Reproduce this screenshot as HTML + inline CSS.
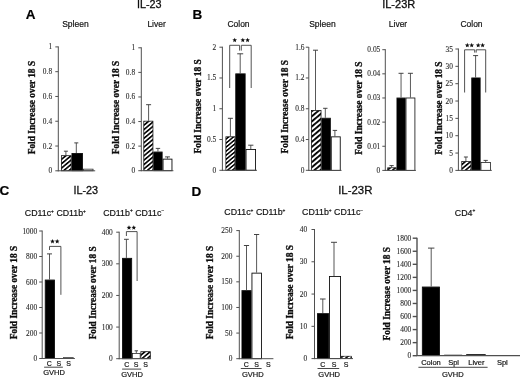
<!DOCTYPE html><html><head><meta charset="utf-8"><title>Figure</title>
<style>html,body{margin:0;padding:0;background:#fff;}body{width:520px;height:378px;overflow:hidden;font-family:"Liberation Sans",sans-serif;}svg{display:block;}</style></head><body>
<svg width="520" height="378" viewBox="0 0 520 378">
<defs><filter id="soft" x="0" y="0" width="520" height="378" filterUnits="userSpaceOnUse"><feGaussianBlur stdDeviation="0.38"/></filter><pattern id="h0" patternUnits="userSpaceOnUse" width="3.35" height="3.35" patternTransform="rotate(50) translate(0 0)"><rect width="3.35" height="3.35" fill="#fff"/><rect width="1.61" height="3.35" fill="#000"/></pattern><pattern id="h1" patternUnits="userSpaceOnUse" width="3.1" height="3.1" patternTransform="rotate(50) translate(0 0)"><rect width="3.1" height="3.1" fill="#fff"/><rect width="1.49" height="3.1" fill="#000"/></pattern><pattern id="h2" patternUnits="userSpaceOnUse" width="3.9" height="3.9" patternTransform="rotate(50) translate(0 0)"><rect width="3.9" height="3.9" fill="#fff"/><rect width="1.87" height="3.9" fill="#000"/></pattern></defs>
<rect width="520" height="378" fill="#fff"/>
<g filter="url(#soft)">
<text x="25.80" y="19.30" font-family="Liberation Sans, sans-serif" font-size="13.5" font-weight="bold" text-anchor="start" fill="#000" stroke="#000" stroke-width="0.18" >A</text>
<text x="192.40" y="19.30" font-family="Liberation Sans, sans-serif" font-size="13.5" font-weight="bold" text-anchor="start" fill="#000" stroke="#000" stroke-width="0.18" >B</text>
<text x="-0.50" y="195.20" font-family="Liberation Sans, sans-serif" font-size="13.5" font-weight="bold" text-anchor="start" fill="#000" stroke="#000" stroke-width="0.18" >C</text>
<text x="191.60" y="195.70" font-family="Liberation Sans, sans-serif" font-size="13.5" font-weight="bold" text-anchor="start" fill="#000" stroke="#000" stroke-width="0.18" >D</text>
<text x="149.20" y="8.30" font-family="Liberation Sans, sans-serif" font-size="10.8" font-weight="normal" text-anchor="middle" fill="#111" stroke="#111" stroke-width="0.3" >IL-23</text>
<text x="398.70" y="7.60" font-family="Liberation Sans, sans-serif" font-size="11.0" font-weight="normal" text-anchor="middle" fill="#111" stroke="#111" stroke-width="0.3" >IL-23R</text>
<text x="85.80" y="194.20" font-family="Liberation Sans, sans-serif" font-size="10.8" font-weight="normal" text-anchor="middle" fill="#111" stroke="#111" stroke-width="0.3" >IL-23</text>
<text x="355.30" y="194.20" font-family="Liberation Sans, sans-serif" font-size="11.4" font-weight="normal" text-anchor="middle" fill="#111" stroke="#111" stroke-width="0.3" >IL-23R</text>
<text x="75.40" y="27.40" font-family="Liberation Sans, sans-serif" font-size="8.5" font-weight="normal" text-anchor="middle" fill="#111" stroke="#111" stroke-width="0.18" >Spleen</text>
<text x="156.60" y="27.40" font-family="Liberation Sans, sans-serif" font-size="8.5" font-weight="normal" text-anchor="middle" fill="#111" stroke="#111" stroke-width="0.18" >Liver</text>
<text x="238.50" y="27.40" font-family="Liberation Sans, sans-serif" font-size="8.5" font-weight="normal" text-anchor="middle" fill="#111" stroke="#111" stroke-width="0.18" >Colon</text>
<text x="322.40" y="27.40" font-family="Liberation Sans, sans-serif" font-size="8.5" font-weight="normal" text-anchor="middle" fill="#111" stroke="#111" stroke-width="0.18" >Spleen</text>
<text x="398.00" y="27.40" font-family="Liberation Sans, sans-serif" font-size="8.5" font-weight="normal" text-anchor="middle" fill="#111" stroke="#111" stroke-width="0.18" >Liver</text>
<text x="471.50" y="27.40" font-family="Liberation Sans, sans-serif" font-size="8.5" font-weight="normal" text-anchor="middle" fill="#111" stroke="#111" stroke-width="0.18" >Colon</text>
<text x="55.40" y="215.80" font-family="Liberation Sans, sans-serif" font-size="8.8" font-weight="normal" text-anchor="middle" fill="#111" stroke="#111" stroke-width="0.18" >CD11c<tspan dy="-3.3" font-size="4.8">+</tspan><tspan dy="3.3" font-size="8.8">&#160;</tspan>CD11b<tspan dy="-3.3" font-size="4.8">+</tspan></text>
<text x="133.70" y="215.60" font-family="Liberation Sans, sans-serif" font-size="8.8" font-weight="normal" text-anchor="middle" fill="#111" stroke="#111" stroke-width="0.18" >CD11b<tspan dy="-3.3" font-size="4.8">+</tspan><tspan dy="3.3" font-size="8.8">&#160;</tspan>CD11c<tspan dy="-3.3" font-size="4.8">−</tspan></text>
<text x="254.90" y="215.30" font-family="Liberation Sans, sans-serif" font-size="8.8" font-weight="normal" text-anchor="middle" fill="#111" stroke="#111" stroke-width="0.18" >CD11c<tspan dy="-3.3" font-size="4.8">+</tspan><tspan dy="3.3" font-size="8.8">&#160;</tspan>CD11b<tspan dy="-3.3" font-size="4.8">+</tspan></text>
<text x="332.60" y="215.30" font-family="Liberation Sans, sans-serif" font-size="8.8" font-weight="normal" text-anchor="middle" fill="#111" stroke="#111" stroke-width="0.18" >CD11b<tspan dy="-3.3" font-size="4.8">+</tspan><tspan dy="3.3" font-size="8.8">&#160;</tspan>CD11c<tspan dy="-3.3" font-size="4.8">−</tspan></text>
<text x="465.00" y="215.60" font-family="Liberation Sans, sans-serif" font-size="8.8" font-weight="normal" text-anchor="middle" fill="#111" stroke="#111" stroke-width="0.18" >CD4<tspan dy="-3.3" font-size="4.8">+</tspan></text>
<rect x="61.38" y="155.68" width="9.75" height="15.12" fill="url(#h0)" stroke="#111" stroke-width="0.75"/>
<line x1="65.90" y1="151.20" x2="65.90" y2="155.30" stroke="#3a3a3a" stroke-width="0.85"/>
<line x1="63.90" y1="151.20" x2="67.90" y2="151.20" stroke="#3a3a3a" stroke-width="0.95"/>
<rect x="71.95" y="153.45" width="10.50" height="17.35" fill="#000" stroke="#111" stroke-width="0.9"/>
<line x1="76.30" y1="142.90" x2="76.30" y2="153.00" stroke="#3a3a3a" stroke-width="0.85"/>
<line x1="74.30" y1="142.90" x2="78.30" y2="142.90" stroke="#3a3a3a" stroke-width="0.95"/>
<rect x="83.25" y="169.15" width="9.80" height="1.65" fill="#fff" stroke="#111" stroke-width="0.7"/>
<line x1="58.30" y1="46.40" x2="58.30" y2="171.30" stroke="#505050" stroke-width="1.0"/>
<line x1="57.80" y1="170.80" x2="95.20" y2="170.80" stroke="#505050" stroke-width="1.0"/>
<line x1="55.30" y1="46.90" x2="58.30" y2="46.90" stroke="#505050" stroke-width="1.0"/>
<text x="52.10" y="49.40" font-family="Liberation Serif, sans-serif" font-size="7.4" font-weight="normal" text-anchor="end" fill="#2a2a2a" stroke="#2a2a2a" stroke-width="0.1" >1</text>
<line x1="55.30" y1="71.68" x2="58.30" y2="71.68" stroke="#505050" stroke-width="1.0"/>
<text x="52.10" y="74.18" font-family="Liberation Serif, sans-serif" font-size="7.4" font-weight="normal" text-anchor="end" fill="#2a2a2a" stroke="#2a2a2a" stroke-width="0.1" >0.8</text>
<line x1="55.30" y1="96.46" x2="58.30" y2="96.46" stroke="#505050" stroke-width="1.0"/>
<text x="52.10" y="98.96" font-family="Liberation Serif, sans-serif" font-size="7.4" font-weight="normal" text-anchor="end" fill="#2a2a2a" stroke="#2a2a2a" stroke-width="0.1" >0.6</text>
<line x1="55.30" y1="121.24" x2="58.30" y2="121.24" stroke="#505050" stroke-width="1.0"/>
<text x="52.10" y="123.74" font-family="Liberation Serif, sans-serif" font-size="7.4" font-weight="normal" text-anchor="end" fill="#2a2a2a" stroke="#2a2a2a" stroke-width="0.1" >0.4</text>
<line x1="55.30" y1="146.02" x2="58.30" y2="146.02" stroke="#505050" stroke-width="1.0"/>
<text x="52.10" y="148.52" font-family="Liberation Serif, sans-serif" font-size="7.4" font-weight="normal" text-anchor="end" fill="#2a2a2a" stroke="#2a2a2a" stroke-width="0.1" >0.2</text>
<line x1="55.30" y1="170.80" x2="58.30" y2="170.80" stroke="#505050" stroke-width="1.0"/>
<text x="52.10" y="173.30" font-family="Liberation Serif, sans-serif" font-size="7.4" font-weight="normal" text-anchor="end" fill="#2a2a2a" stroke="#2a2a2a" stroke-width="0.1" >0</text>
<text x="34.60" y="107.60" font-family="Liberation Serif, sans-serif" font-size="9.39" font-weight="bold" text-anchor="middle" fill="#0a0a0a" stroke="#0a0a0a" stroke-width="0.3" transform="rotate(-90 34.60 107.60)">Fold Increase over 18 S</text>
<rect x="143.78" y="121.17" width="9.15" height="49.52" fill="url(#h0)" stroke="#111" stroke-width="0.75"/>
<line x1="148.60" y1="104.70" x2="148.60" y2="120.80" stroke="#3a3a3a" stroke-width="0.85"/>
<line x1="146.10" y1="104.70" x2="151.10" y2="104.70" stroke="#3a3a3a" stroke-width="0.95"/>
<rect x="153.75" y="152.05" width="8.40" height="18.65" fill="#000" stroke="#111" stroke-width="0.9"/>
<line x1="157.95" y1="148.40" x2="157.95" y2="151.60" stroke="#3a3a3a" stroke-width="0.85"/>
<line x1="155.75" y1="148.40" x2="160.15" y2="148.40" stroke="#3a3a3a" stroke-width="0.95"/>
<rect x="163.05" y="159.15" width="8.90" height="11.55" fill="#fff" stroke="#111" stroke-width="0.9"/>
<line x1="167.50" y1="156.90" x2="167.50" y2="158.70" stroke="#3a3a3a" stroke-width="0.85"/>
<line x1="165.10" y1="156.90" x2="169.90" y2="156.90" stroke="#3a3a3a" stroke-width="0.95"/>
<line x1="141.30" y1="47.30" x2="141.30" y2="171.20" stroke="#505050" stroke-width="1.0"/>
<line x1="140.80" y1="170.70" x2="173.40" y2="170.70" stroke="#505050" stroke-width="1.0"/>
<line x1="138.30" y1="47.80" x2="141.30" y2="47.80" stroke="#505050" stroke-width="1.0"/>
<text x="135.10" y="50.30" font-family="Liberation Serif, sans-serif" font-size="7.4" font-weight="normal" text-anchor="end" fill="#2a2a2a" stroke="#2a2a2a" stroke-width="0.1" >1</text>
<line x1="138.30" y1="72.38" x2="141.30" y2="72.38" stroke="#505050" stroke-width="1.0"/>
<text x="135.10" y="74.88" font-family="Liberation Serif, sans-serif" font-size="7.4" font-weight="normal" text-anchor="end" fill="#2a2a2a" stroke="#2a2a2a" stroke-width="0.1" >0.8</text>
<line x1="138.30" y1="96.96" x2="141.30" y2="96.96" stroke="#505050" stroke-width="1.0"/>
<text x="135.10" y="99.46" font-family="Liberation Serif, sans-serif" font-size="7.4" font-weight="normal" text-anchor="end" fill="#2a2a2a" stroke="#2a2a2a" stroke-width="0.1" >0.6</text>
<line x1="138.30" y1="121.54" x2="141.30" y2="121.54" stroke="#505050" stroke-width="1.0"/>
<text x="135.10" y="124.04" font-family="Liberation Serif, sans-serif" font-size="7.4" font-weight="normal" text-anchor="end" fill="#2a2a2a" stroke="#2a2a2a" stroke-width="0.1" >0.4</text>
<line x1="138.30" y1="146.12" x2="141.30" y2="146.12" stroke="#505050" stroke-width="1.0"/>
<text x="135.10" y="148.62" font-family="Liberation Serif, sans-serif" font-size="7.4" font-weight="normal" text-anchor="end" fill="#2a2a2a" stroke="#2a2a2a" stroke-width="0.1" >0.2</text>
<line x1="138.30" y1="170.70" x2="141.30" y2="170.70" stroke="#505050" stroke-width="1.0"/>
<text x="135.10" y="173.20" font-family="Liberation Serif, sans-serif" font-size="7.4" font-weight="normal" text-anchor="end" fill="#2a2a2a" stroke="#2a2a2a" stroke-width="0.1" >0</text>
<text x="119.00" y="107.50" font-family="Liberation Serif, sans-serif" font-size="9.39" font-weight="bold" text-anchor="middle" fill="#0a0a0a" stroke="#0a0a0a" stroke-width="0.3" transform="rotate(-90 119.00 107.50)">Fold Increase over 18 S</text>
<rect x="225.88" y="136.78" width="9.05" height="33.53" fill="url(#h1)" stroke="#111" stroke-width="0.75"/>
<line x1="230.40" y1="118.30" x2="230.40" y2="136.40" stroke="#3a3a3a" stroke-width="0.85"/>
<line x1="227.90" y1="118.30" x2="232.90" y2="118.30" stroke="#3a3a3a" stroke-width="0.95"/>
<rect x="235.75" y="73.85" width="9.40" height="96.45" fill="#000" stroke="#111" stroke-width="0.9"/>
<line x1="240.20" y1="53.80" x2="240.20" y2="73.40" stroke="#3a3a3a" stroke-width="0.85"/>
<line x1="237.20" y1="53.80" x2="243.20" y2="53.80" stroke="#3a3a3a" stroke-width="0.95"/>
<rect x="246.05" y="149.45" width="9.50" height="20.85" fill="#fff" stroke="#111" stroke-width="0.9"/>
<line x1="250.80" y1="145.20" x2="250.80" y2="149.00" stroke="#3a3a3a" stroke-width="0.85"/>
<line x1="248.20" y1="145.20" x2="253.40" y2="145.20" stroke="#3a3a3a" stroke-width="0.95"/>
<line x1="222.40" y1="46.70" x2="222.40" y2="170.80" stroke="#505050" stroke-width="1.0"/>
<line x1="221.90" y1="170.30" x2="257.00" y2="170.30" stroke="#505050" stroke-width="1.0"/>
<line x1="219.40" y1="47.20" x2="222.40" y2="47.20" stroke="#505050" stroke-width="1.0"/>
<text x="216.30" y="49.70" font-family="Liberation Serif, sans-serif" font-size="7.4" font-weight="normal" text-anchor="end" fill="#2a2a2a" stroke="#2a2a2a" stroke-width="0.1" >2</text>
<line x1="219.40" y1="77.98" x2="222.40" y2="77.98" stroke="#505050" stroke-width="1.0"/>
<text x="216.30" y="80.48" font-family="Liberation Serif, sans-serif" font-size="7.4" font-weight="normal" text-anchor="end" fill="#2a2a2a" stroke="#2a2a2a" stroke-width="0.1" >1.5</text>
<line x1="219.40" y1="108.75" x2="222.40" y2="108.75" stroke="#505050" stroke-width="1.0"/>
<text x="216.30" y="111.25" font-family="Liberation Serif, sans-serif" font-size="7.4" font-weight="normal" text-anchor="end" fill="#2a2a2a" stroke="#2a2a2a" stroke-width="0.1" >1</text>
<line x1="219.40" y1="139.53" x2="222.40" y2="139.53" stroke="#505050" stroke-width="1.0"/>
<text x="216.30" y="142.03" font-family="Liberation Serif, sans-serif" font-size="7.4" font-weight="normal" text-anchor="end" fill="#2a2a2a" stroke="#2a2a2a" stroke-width="0.1" >0.5</text>
<line x1="219.40" y1="170.30" x2="222.40" y2="170.30" stroke="#505050" stroke-width="1.0"/>
<text x="216.30" y="172.80" font-family="Liberation Serif, sans-serif" font-size="7.4" font-weight="normal" text-anchor="end" fill="#2a2a2a" stroke="#2a2a2a" stroke-width="0.1" >0</text>
<text x="200.90" y="106.30" font-family="Liberation Serif, sans-serif" font-size="9.47" font-weight="bold" text-anchor="middle" fill="#0a0a0a" stroke="#0a0a0a" stroke-width="0.3" transform="rotate(-90 200.90 106.30)">Fold Increase over 18 S</text>
<polyline points="229.70,88.00 229.70,45.30 239.60,45.30 239.60,50.60" fill="none" stroke="#333" stroke-width="0.85"/>
<polyline points="241.30,50.60 241.30,45.30 251.20,45.30 251.20,88.00" fill="none" stroke="#333" stroke-width="0.85"/>
<polygon points="234.70,37.75 235.35,39.31 237.03,39.44 235.75,40.54 236.14,42.18 234.70,41.30 233.26,42.18 233.65,40.54 232.37,39.44 234.05,39.31" fill="#111"/>
<polygon points="242.80,37.75 243.45,39.31 245.13,39.44 243.85,40.54 244.24,42.18 242.80,41.30 241.36,42.18 241.75,40.54 240.47,39.44 242.15,39.31" fill="#111"/>
<polygon points="247.60,37.75 248.25,39.31 249.93,39.44 248.65,40.54 249.04,42.18 247.60,41.30 246.16,42.18 246.55,40.54 245.27,39.44 246.95,39.31" fill="#111"/>
<rect x="311.48" y="110.47" width="9.55" height="59.93" fill="url(#h2)" stroke="#111" stroke-width="0.75"/>
<line x1="315.50" y1="50.20" x2="315.50" y2="110.10" stroke="#3a3a3a" stroke-width="0.85"/>
<line x1="313.00" y1="50.20" x2="318.00" y2="50.20" stroke="#3a3a3a" stroke-width="0.95"/>
<rect x="321.85" y="118.25" width="8.50" height="52.15" fill="#000" stroke="#111" stroke-width="0.9"/>
<line x1="325.30" y1="108.30" x2="325.30" y2="117.80" stroke="#3a3a3a" stroke-width="0.85"/>
<line x1="323.10" y1="108.30" x2="327.50" y2="108.30" stroke="#3a3a3a" stroke-width="0.95"/>
<rect x="331.25" y="136.85" width="9.00" height="33.55" fill="#fff" stroke="#111" stroke-width="0.9"/>
<line x1="334.90" y1="130.40" x2="334.90" y2="136.40" stroke="#3a3a3a" stroke-width="0.85"/>
<line x1="332.70" y1="130.40" x2="337.10" y2="130.40" stroke="#3a3a3a" stroke-width="0.95"/>
<line x1="308.80" y1="47.00" x2="308.80" y2="170.90" stroke="#505050" stroke-width="1.0"/>
<line x1="308.30" y1="170.40" x2="341.50" y2="170.40" stroke="#505050" stroke-width="1.0"/>
<line x1="305.80" y1="47.20" x2="308.80" y2="47.20" stroke="#505050" stroke-width="1.0"/>
<text x="304.50" y="49.70" font-family="Liberation Serif, sans-serif" font-size="7.4" font-weight="normal" text-anchor="end" fill="#2a2a2a" stroke="#2a2a2a" stroke-width="0.1" >1.6</text>
<line x1="305.80" y1="77.98" x2="308.80" y2="77.98" stroke="#505050" stroke-width="1.0"/>
<text x="304.50" y="80.48" font-family="Liberation Serif, sans-serif" font-size="7.4" font-weight="normal" text-anchor="end" fill="#2a2a2a" stroke="#2a2a2a" stroke-width="0.1" >1.2</text>
<line x1="305.80" y1="108.75" x2="308.80" y2="108.75" stroke="#505050" stroke-width="1.0"/>
<text x="304.50" y="111.25" font-family="Liberation Serif, sans-serif" font-size="7.4" font-weight="normal" text-anchor="end" fill="#2a2a2a" stroke="#2a2a2a" stroke-width="0.1" >0.8</text>
<line x1="305.80" y1="139.53" x2="308.80" y2="139.53" stroke="#505050" stroke-width="1.0"/>
<text x="304.50" y="142.03" font-family="Liberation Serif, sans-serif" font-size="7.4" font-weight="normal" text-anchor="end" fill="#2a2a2a" stroke="#2a2a2a" stroke-width="0.1" >0.4</text>
<line x1="305.80" y1="170.30" x2="308.80" y2="170.30" stroke="#505050" stroke-width="1.0"/>
<text x="304.50" y="172.80" font-family="Liberation Serif, sans-serif" font-size="7.4" font-weight="normal" text-anchor="end" fill="#2a2a2a" stroke="#2a2a2a" stroke-width="0.1" >0</text>
<text x="288.10" y="106.70" font-family="Liberation Serif, sans-serif" font-size="9.39" font-weight="bold" text-anchor="middle" fill="#0a0a0a" stroke="#0a0a0a" stroke-width="0.3" transform="rotate(-90 288.10 106.70)">Fold Increase over 18 S</text>
<rect x="387.68" y="167.78" width="8.45" height="2.62" fill="url(#h0)" stroke="#111" stroke-width="0.75"/>
<line x1="391.60" y1="165.60" x2="391.60" y2="167.40" stroke="#3a3a3a" stroke-width="0.85"/>
<line x1="389.50" y1="165.60" x2="393.70" y2="165.60" stroke="#3a3a3a" stroke-width="0.95"/>
<rect x="396.95" y="98.05" width="8.20" height="72.35" fill="#000" stroke="#111" stroke-width="0.9"/>
<line x1="401.05" y1="73.30" x2="401.05" y2="97.60" stroke="#3a3a3a" stroke-width="0.85"/>
<line x1="398.55" y1="73.30" x2="403.55" y2="73.30" stroke="#3a3a3a" stroke-width="0.95"/>
<rect x="406.00" y="98.00" width="8.90" height="72.40" fill="#fff" stroke="#111" stroke-width="0.8"/>
<line x1="410.45" y1="73.30" x2="410.45" y2="97.60" stroke="#3a3a3a" stroke-width="0.85"/>
<line x1="407.95" y1="73.30" x2="412.95" y2="73.30" stroke="#3a3a3a" stroke-width="0.95"/>
<line x1="385.30" y1="49.20" x2="385.30" y2="170.90" stroke="#505050" stroke-width="1.0"/>
<line x1="384.80" y1="170.40" x2="415.90" y2="170.40" stroke="#505050" stroke-width="1.0"/>
<line x1="382.30" y1="49.70" x2="385.30" y2="49.70" stroke="#505050" stroke-width="1.0"/>
<text x="380.30" y="52.20" font-family="Liberation Serif, sans-serif" font-size="7.4" font-weight="normal" text-anchor="end" fill="#2a2a2a" stroke="#2a2a2a" stroke-width="0.1" >0.05</text>
<line x1="382.30" y1="73.84" x2="385.30" y2="73.84" stroke="#505050" stroke-width="1.0"/>
<text x="380.30" y="76.34" font-family="Liberation Serif, sans-serif" font-size="7.4" font-weight="normal" text-anchor="end" fill="#2a2a2a" stroke="#2a2a2a" stroke-width="0.1" >0.04</text>
<line x1="382.30" y1="97.98" x2="385.30" y2="97.98" stroke="#505050" stroke-width="1.0"/>
<text x="380.30" y="100.48" font-family="Liberation Serif, sans-serif" font-size="7.4" font-weight="normal" text-anchor="end" fill="#2a2a2a" stroke="#2a2a2a" stroke-width="0.1" >0.03</text>
<line x1="382.30" y1="122.12" x2="385.30" y2="122.12" stroke="#505050" stroke-width="1.0"/>
<text x="380.30" y="124.62" font-family="Liberation Serif, sans-serif" font-size="7.4" font-weight="normal" text-anchor="end" fill="#2a2a2a" stroke="#2a2a2a" stroke-width="0.1" >0.02</text>
<line x1="382.30" y1="146.26" x2="385.30" y2="146.26" stroke="#505050" stroke-width="1.0"/>
<text x="380.30" y="148.76" font-family="Liberation Serif, sans-serif" font-size="7.4" font-weight="normal" text-anchor="end" fill="#2a2a2a" stroke="#2a2a2a" stroke-width="0.1" >0.01</text>
<line x1="382.30" y1="170.40" x2="385.30" y2="170.40" stroke="#505050" stroke-width="1.0"/>
<text x="380.30" y="172.90" font-family="Liberation Serif, sans-serif" font-size="7.4" font-weight="normal" text-anchor="end" fill="#2a2a2a" stroke="#2a2a2a" stroke-width="0.1" >0</text>
<text x="362.20" y="108.10" font-family="Liberation Serif, sans-serif" font-size="9.39" font-weight="bold" text-anchor="middle" fill="#0a0a0a" stroke="#0a0a0a" stroke-width="0.3" transform="rotate(-90 362.20 108.10)">Fold Increase over 18 S</text>
<rect x="461.77" y="161.47" width="9.15" height="8.93" fill="url(#h0)" stroke="#111" stroke-width="0.75"/>
<line x1="465.90" y1="157.00" x2="465.90" y2="161.10" stroke="#3a3a3a" stroke-width="0.85"/>
<line x1="463.90" y1="157.00" x2="467.90" y2="157.00" stroke="#3a3a3a" stroke-width="0.95"/>
<rect x="471.75" y="77.95" width="8.40" height="92.45" fill="#000" stroke="#111" stroke-width="0.9"/>
<line x1="475.60" y1="55.60" x2="475.60" y2="77.50" stroke="#3a3a3a" stroke-width="0.85"/>
<line x1="473.10" y1="55.60" x2="478.10" y2="55.60" stroke="#3a3a3a" stroke-width="0.95"/>
<rect x="480.98" y="162.57" width="9.45" height="7.83" fill="#fff" stroke="#111" stroke-width="0.75"/>
<line x1="485.70" y1="160.40" x2="485.70" y2="162.20" stroke="#3a3a3a" stroke-width="0.85"/>
<line x1="483.60" y1="160.40" x2="487.80" y2="160.40" stroke="#3a3a3a" stroke-width="0.95"/>
<line x1="458.40" y1="48.50" x2="458.40" y2="170.90" stroke="#505050" stroke-width="1.0"/>
<line x1="457.90" y1="170.40" x2="491.80" y2="170.40" stroke="#505050" stroke-width="1.0"/>
<line x1="455.40" y1="49.00" x2="458.40" y2="49.00" stroke="#505050" stroke-width="1.0"/>
<text x="452.90" y="51.50" font-family="Liberation Serif, sans-serif" font-size="7.4" font-weight="normal" text-anchor="end" fill="#2a2a2a" stroke="#2a2a2a" stroke-width="0.1" >35</text>
<line x1="455.40" y1="66.34" x2="458.40" y2="66.34" stroke="#505050" stroke-width="1.0"/>
<text x="452.90" y="68.84" font-family="Liberation Serif, sans-serif" font-size="7.4" font-weight="normal" text-anchor="end" fill="#2a2a2a" stroke="#2a2a2a" stroke-width="0.1" >30</text>
<line x1="455.40" y1="83.69" x2="458.40" y2="83.69" stroke="#505050" stroke-width="1.0"/>
<text x="452.90" y="86.19" font-family="Liberation Serif, sans-serif" font-size="7.4" font-weight="normal" text-anchor="end" fill="#2a2a2a" stroke="#2a2a2a" stroke-width="0.1" >25</text>
<line x1="455.40" y1="101.03" x2="458.40" y2="101.03" stroke="#505050" stroke-width="1.0"/>
<text x="452.90" y="103.53" font-family="Liberation Serif, sans-serif" font-size="7.4" font-weight="normal" text-anchor="end" fill="#2a2a2a" stroke="#2a2a2a" stroke-width="0.1" >20</text>
<line x1="455.40" y1="118.37" x2="458.40" y2="118.37" stroke="#505050" stroke-width="1.0"/>
<text x="452.90" y="120.87" font-family="Liberation Serif, sans-serif" font-size="7.4" font-weight="normal" text-anchor="end" fill="#2a2a2a" stroke="#2a2a2a" stroke-width="0.1" >15</text>
<line x1="455.40" y1="135.71" x2="458.40" y2="135.71" stroke="#505050" stroke-width="1.0"/>
<text x="452.90" y="138.21" font-family="Liberation Serif, sans-serif" font-size="7.4" font-weight="normal" text-anchor="end" fill="#2a2a2a" stroke="#2a2a2a" stroke-width="0.1" >10</text>
<line x1="455.40" y1="153.06" x2="458.40" y2="153.06" stroke="#505050" stroke-width="1.0"/>
<text x="452.90" y="155.56" font-family="Liberation Serif, sans-serif" font-size="7.4" font-weight="normal" text-anchor="end" fill="#2a2a2a" stroke="#2a2a2a" stroke-width="0.1" >5</text>
<line x1="455.40" y1="170.40" x2="458.40" y2="170.40" stroke="#505050" stroke-width="1.0"/>
<text x="452.90" y="172.90" font-family="Liberation Serif, sans-serif" font-size="7.4" font-weight="normal" text-anchor="end" fill="#2a2a2a" stroke="#2a2a2a" stroke-width="0.1" >0</text>
<text x="441.90" y="108.10" font-family="Liberation Serif, sans-serif" font-size="9.39" font-weight="bold" text-anchor="middle" fill="#0a0a0a" stroke="#0a0a0a" stroke-width="0.3" transform="rotate(-90 441.90 108.10)">Fold Increase over 18 S</text>
<polyline points="464.60,92.50 464.60,49.80 474.70,49.80 474.70,52.60" fill="none" stroke="#333" stroke-width="0.85"/>
<polyline points="476.20,52.60 476.20,49.80 485.70,49.80 485.70,92.50" fill="none" stroke="#333" stroke-width="0.85"/>
<polygon points="467.30,42.85 467.95,44.41 469.63,44.54 468.35,45.64 468.74,47.28 467.30,46.40 465.86,47.28 466.25,45.64 464.97,44.54 466.65,44.41" fill="#111"/>
<polygon points="471.70,42.85 472.35,44.41 474.03,44.54 472.75,45.64 473.14,47.28 471.70,46.40 470.26,47.28 470.65,45.64 469.37,44.54 471.05,44.41" fill="#111"/>
<polygon points="478.20,42.85 478.85,44.41 480.53,44.54 479.25,45.64 479.64,47.28 478.20,46.40 476.76,47.28 477.15,45.64 475.87,44.54 477.55,44.41" fill="#111"/>
<polygon points="482.60,42.85 483.25,44.41 484.93,44.54 483.65,45.64 484.04,47.28 482.60,46.40 481.16,47.28 481.55,45.64 480.27,44.54 481.95,44.41" fill="#111"/>
<rect x="45.25" y="280.05" width="9.20" height="78.45" fill="#000" stroke="#111" stroke-width="0.9"/>
<line x1="49.50" y1="253.90" x2="49.50" y2="279.60" stroke="#3a3a3a" stroke-width="0.85"/>
<line x1="47.00" y1="253.90" x2="52.00" y2="253.90" stroke="#3a3a3a" stroke-width="0.95"/>
<rect x="63.15" y="357.55" width="10.20" height="0.95" fill="#000" stroke="#111" stroke-width="0.3"/>
<line x1="42.20" y1="230.50" x2="42.20" y2="359.00" stroke="#505050" stroke-width="1.0"/>
<line x1="41.70" y1="358.50" x2="74.90" y2="358.50" stroke="#505050" stroke-width="1.0"/>
<line x1="39.20" y1="231.00" x2="42.20" y2="231.00" stroke="#505050" stroke-width="1.0"/>
<text x="37.20" y="233.50" font-family="Liberation Serif, sans-serif" font-size="7.4" font-weight="normal" text-anchor="end" fill="#2a2a2a" stroke="#2a2a2a" stroke-width="0.1" >1000</text>
<line x1="39.20" y1="256.50" x2="42.20" y2="256.50" stroke="#505050" stroke-width="1.0"/>
<text x="37.20" y="259.00" font-family="Liberation Serif, sans-serif" font-size="7.4" font-weight="normal" text-anchor="end" fill="#2a2a2a" stroke="#2a2a2a" stroke-width="0.1" >800</text>
<line x1="39.20" y1="282.00" x2="42.20" y2="282.00" stroke="#505050" stroke-width="1.0"/>
<text x="37.20" y="284.50" font-family="Liberation Serif, sans-serif" font-size="7.4" font-weight="normal" text-anchor="end" fill="#2a2a2a" stroke="#2a2a2a" stroke-width="0.1" >600</text>
<line x1="39.20" y1="307.50" x2="42.20" y2="307.50" stroke="#505050" stroke-width="1.0"/>
<text x="37.20" y="310.00" font-family="Liberation Serif, sans-serif" font-size="7.4" font-weight="normal" text-anchor="end" fill="#2a2a2a" stroke="#2a2a2a" stroke-width="0.1" >400</text>
<line x1="39.20" y1="333.00" x2="42.20" y2="333.00" stroke="#505050" stroke-width="1.0"/>
<text x="37.20" y="335.50" font-family="Liberation Serif, sans-serif" font-size="7.4" font-weight="normal" text-anchor="end" fill="#2a2a2a" stroke="#2a2a2a" stroke-width="0.1" >200</text>
<line x1="39.20" y1="358.50" x2="42.20" y2="358.50" stroke="#505050" stroke-width="1.0"/>
<text x="37.20" y="361.00" font-family="Liberation Serif, sans-serif" font-size="7.4" font-weight="normal" text-anchor="end" fill="#2a2a2a" stroke="#2a2a2a" stroke-width="0.1" >0</text>
<text x="16.60" y="292.50" font-family="Liberation Serif, sans-serif" font-size="9.4" font-weight="bold" text-anchor="middle" fill="#0a0a0a" stroke="#0a0a0a" stroke-width="0.3" transform="rotate(-90 16.60 292.50)">Fold Increase over 18 S</text>
<polyline points="49.50,250.00 49.50,246.40 60.90,246.40 60.90,294.80" fill="none" stroke="#333" stroke-width="0.85"/>
<polygon points="52.50,239.05 53.15,240.61 54.83,240.74 53.55,241.84 53.94,243.48 52.50,242.60 51.06,243.48 51.45,241.84 50.17,240.74 51.85,240.61" fill="#111"/>
<polygon points="57.20,239.05 57.85,240.61 59.53,240.74 58.25,241.84 58.64,243.48 57.20,242.60 55.76,243.48 56.15,241.84 54.87,240.74 56.55,240.61" fill="#111"/>
<text x="49.40" y="365.80" font-family="Liberation Sans, sans-serif" font-size="7.0" font-weight="normal" text-anchor="middle" fill="#111" stroke="#111" stroke-width="0.18" >C</text>
<text x="58.80" y="365.80" font-family="Liberation Sans, sans-serif" font-size="7.0" font-weight="normal" text-anchor="middle" fill="#111" stroke="#111" stroke-width="0.18" >S</text>
<text x="68.70" y="365.80" font-family="Liberation Sans, sans-serif" font-size="7.0" font-weight="normal" text-anchor="middle" fill="#111" stroke="#111" stroke-width="0.18" >S</text>
<line x1="44.10" y1="367.20" x2="62.90" y2="367.20" stroke="#333" stroke-width="0.9"/>
<text x="54.00" y="374.80" font-family="Liberation Sans, sans-serif" font-size="7.5" font-weight="normal" text-anchor="middle" fill="#111" stroke="#111" stroke-width="0.18" >GVHD</text>
<rect x="122.55" y="258.35" width="9.10" height="100.35" fill="#000" stroke="#111" stroke-width="0.9"/>
<line x1="126.40" y1="239.30" x2="126.40" y2="257.90" stroke="#3a3a3a" stroke-width="0.85"/>
<line x1="124.00" y1="239.30" x2="128.80" y2="239.30" stroke="#3a3a3a" stroke-width="0.95"/>
<rect x="132.45" y="353.45" width="7.70" height="5.25" fill="#fff" stroke="#111" stroke-width="0.7"/>
<line x1="136.30" y1="350.80" x2="136.30" y2="353.10" stroke="#3a3a3a" stroke-width="0.85"/>
<line x1="134.60" y1="350.80" x2="138.00" y2="350.80" stroke="#3a3a3a" stroke-width="0.95"/>
<rect x="140.88" y="351.68" width="9.45" height="7.02" fill="url(#h0)" stroke="#111" stroke-width="0.75"/>
<line x1="119.20" y1="231.70" x2="119.20" y2="359.20" stroke="#505050" stroke-width="1.0"/>
<line x1="118.70" y1="358.70" x2="150.90" y2="358.70" stroke="#505050" stroke-width="1.0"/>
<line x1="116.20" y1="232.20" x2="119.20" y2="232.20" stroke="#505050" stroke-width="1.0"/>
<text x="112.80" y="234.70" font-family="Liberation Serif, sans-serif" font-size="7.4" font-weight="normal" text-anchor="end" fill="#2a2a2a" stroke="#2a2a2a" stroke-width="0.1" >400</text>
<line x1="116.20" y1="263.82" x2="119.20" y2="263.82" stroke="#505050" stroke-width="1.0"/>
<text x="112.80" y="266.32" font-family="Liberation Serif, sans-serif" font-size="7.4" font-weight="normal" text-anchor="end" fill="#2a2a2a" stroke="#2a2a2a" stroke-width="0.1" >300</text>
<line x1="116.20" y1="295.45" x2="119.20" y2="295.45" stroke="#505050" stroke-width="1.0"/>
<text x="112.80" y="297.95" font-family="Liberation Serif, sans-serif" font-size="7.4" font-weight="normal" text-anchor="end" fill="#2a2a2a" stroke="#2a2a2a" stroke-width="0.1" >200</text>
<line x1="116.20" y1="327.07" x2="119.20" y2="327.07" stroke="#505050" stroke-width="1.0"/>
<text x="112.80" y="329.57" font-family="Liberation Serif, sans-serif" font-size="7.4" font-weight="normal" text-anchor="end" fill="#2a2a2a" stroke="#2a2a2a" stroke-width="0.1" >100</text>
<line x1="116.20" y1="358.70" x2="119.20" y2="358.70" stroke="#505050" stroke-width="1.0"/>
<text x="112.80" y="361.20" font-family="Liberation Serif, sans-serif" font-size="7.4" font-weight="normal" text-anchor="end" fill="#2a2a2a" stroke="#2a2a2a" stroke-width="0.1" >0</text>
<text x="96.10" y="292.80" font-family="Liberation Serif, sans-serif" font-size="9.35" font-weight="bold" text-anchor="middle" fill="#0a0a0a" stroke="#0a0a0a" stroke-width="0.3" transform="rotate(-90 96.10 292.80)">Fold Increase over 18 S</text>
<polyline points="126.40,236.00 126.40,231.60 137.10,231.60 137.10,281.00" fill="none" stroke="#333" stroke-width="0.85"/>
<polygon points="129.00,225.25 129.65,226.81 131.33,226.94 130.05,228.04 130.44,229.68 129.00,228.80 127.56,229.68 127.95,228.04 126.67,226.94 128.35,226.81" fill="#111"/>
<polygon points="133.80,225.25 134.45,226.81 136.13,226.94 134.85,228.04 135.24,229.68 133.80,228.80 132.36,229.68 132.75,228.04 131.47,226.94 133.15,226.81" fill="#111"/>
<text x="126.70" y="367.30" font-family="Liberation Sans, sans-serif" font-size="7.0" font-weight="normal" text-anchor="middle" fill="#111" stroke="#111" stroke-width="0.18" >C</text>
<text x="136.20" y="367.30" font-family="Liberation Sans, sans-serif" font-size="7.0" font-weight="normal" text-anchor="middle" fill="#111" stroke="#111" stroke-width="0.18" >S</text>
<text x="145.70" y="367.30" font-family="Liberation Sans, sans-serif" font-size="7.0" font-weight="normal" text-anchor="middle" fill="#111" stroke="#111" stroke-width="0.18" >S</text>
<line x1="122.10" y1="369.10" x2="141.20" y2="369.10" stroke="#333" stroke-width="0.9"/>
<text x="132.00" y="377.00" font-family="Liberation Sans, sans-serif" font-size="7.5" font-weight="normal" text-anchor="middle" fill="#111" stroke="#111" stroke-width="0.18" >GVHD</text>
<rect x="241.95" y="290.65" width="9.10" height="68.05" fill="#000" stroke="#111" stroke-width="0.9"/>
<line x1="246.50" y1="245.50" x2="246.50" y2="290.20" stroke="#3a3a3a" stroke-width="0.85"/>
<line x1="243.90" y1="245.50" x2="249.10" y2="245.50" stroke="#3a3a3a" stroke-width="0.95"/>
<rect x="251.95" y="273.15" width="9.60" height="85.55" fill="#fff" stroke="#111" stroke-width="0.9"/>
<line x1="256.60" y1="234.50" x2="256.60" y2="272.70" stroke="#3a3a3a" stroke-width="0.85"/>
<line x1="254.00" y1="234.50" x2="259.20" y2="234.50" stroke="#3a3a3a" stroke-width="0.95"/>
<line x1="239.30" y1="230.10" x2="239.30" y2="359.20" stroke="#505050" stroke-width="1.0"/>
<line x1="238.80" y1="358.70" x2="273.40" y2="358.70" stroke="#505050" stroke-width="1.0"/>
<line x1="236.30" y1="230.60" x2="239.30" y2="230.60" stroke="#505050" stroke-width="1.0"/>
<text x="232.40" y="233.10" font-family="Liberation Serif, sans-serif" font-size="7.4" font-weight="normal" text-anchor="end" fill="#2a2a2a" stroke="#2a2a2a" stroke-width="0.1" >250</text>
<line x1="236.30" y1="256.22" x2="239.30" y2="256.22" stroke="#505050" stroke-width="1.0"/>
<text x="232.40" y="258.72" font-family="Liberation Serif, sans-serif" font-size="7.4" font-weight="normal" text-anchor="end" fill="#2a2a2a" stroke="#2a2a2a" stroke-width="0.1" >200</text>
<line x1="236.30" y1="281.84" x2="239.30" y2="281.84" stroke="#505050" stroke-width="1.0"/>
<text x="232.40" y="284.34" font-family="Liberation Serif, sans-serif" font-size="7.4" font-weight="normal" text-anchor="end" fill="#2a2a2a" stroke="#2a2a2a" stroke-width="0.1" >150</text>
<line x1="236.30" y1="307.46" x2="239.30" y2="307.46" stroke="#505050" stroke-width="1.0"/>
<text x="232.40" y="309.96" font-family="Liberation Serif, sans-serif" font-size="7.4" font-weight="normal" text-anchor="end" fill="#2a2a2a" stroke="#2a2a2a" stroke-width="0.1" >100</text>
<line x1="236.30" y1="333.08" x2="239.30" y2="333.08" stroke="#505050" stroke-width="1.0"/>
<text x="232.40" y="335.58" font-family="Liberation Serif, sans-serif" font-size="7.4" font-weight="normal" text-anchor="end" fill="#2a2a2a" stroke="#2a2a2a" stroke-width="0.1" >50</text>
<line x1="236.30" y1="358.70" x2="239.30" y2="358.70" stroke="#505050" stroke-width="1.0"/>
<text x="232.40" y="361.20" font-family="Liberation Serif, sans-serif" font-size="7.4" font-weight="normal" text-anchor="end" fill="#2a2a2a" stroke="#2a2a2a" stroke-width="0.1" >0</text>
<text x="213.40" y="292.50" font-family="Liberation Serif, sans-serif" font-size="9.4" font-weight="bold" text-anchor="middle" fill="#0a0a0a" stroke="#0a0a0a" stroke-width="0.3" transform="rotate(-90 213.40 292.50)">Fold Increase over 18 S</text>
<text x="246.30" y="367.10" font-family="Liberation Sans, sans-serif" font-size="7.0" font-weight="normal" text-anchor="middle" fill="#111" stroke="#111" stroke-width="0.18" >C</text>
<text x="256.50" y="367.10" font-family="Liberation Sans, sans-serif" font-size="7.0" font-weight="normal" text-anchor="middle" fill="#111" stroke="#111" stroke-width="0.18" >S</text>
<text x="268.30" y="367.10" font-family="Liberation Sans, sans-serif" font-size="7.0" font-weight="normal" text-anchor="middle" fill="#111" stroke="#111" stroke-width="0.18" >S</text>
<line x1="240.80" y1="368.50" x2="261.60" y2="368.50" stroke="#333" stroke-width="0.9"/>
<text x="252.80" y="376.70" font-family="Liberation Sans, sans-serif" font-size="7.5" font-weight="normal" text-anchor="middle" fill="#111" stroke="#111" stroke-width="0.18" >GVHD</text>
<rect x="317.45" y="313.65" width="11.10" height="44.95" fill="#000" stroke="#111" stroke-width="0.9"/>
<line x1="322.80" y1="299.00" x2="322.80" y2="313.20" stroke="#3a3a3a" stroke-width="0.85"/>
<line x1="320.00" y1="299.00" x2="325.60" y2="299.00" stroke="#3a3a3a" stroke-width="0.95"/>
<rect x="329.45" y="276.45" width="11.10" height="82.15" fill="#fff" stroke="#111" stroke-width="0.9"/>
<line x1="334.00" y1="242.30" x2="334.00" y2="276.00" stroke="#3a3a3a" stroke-width="0.85"/>
<line x1="331.00" y1="242.30" x2="337.00" y2="242.30" stroke="#3a3a3a" stroke-width="0.95"/>
<rect x="341.30" y="356.20" width="10.40" height="2.40" fill="url(#h0)" stroke="#111" stroke-width="0.6"/>
<line x1="314.50" y1="229.00" x2="314.50" y2="359.10" stroke="#505050" stroke-width="1.0"/>
<line x1="314.00" y1="358.60" x2="353.00" y2="358.60" stroke="#505050" stroke-width="1.0"/>
<line x1="311.50" y1="229.50" x2="314.50" y2="229.50" stroke="#505050" stroke-width="1.0"/>
<text x="307.10" y="232.00" font-family="Liberation Serif, sans-serif" font-size="7.4" font-weight="normal" text-anchor="end" fill="#2a2a2a" stroke="#2a2a2a" stroke-width="0.1" >40</text>
<line x1="311.50" y1="261.77" x2="314.50" y2="261.77" stroke="#505050" stroke-width="1.0"/>
<text x="307.10" y="264.27" font-family="Liberation Serif, sans-serif" font-size="7.4" font-weight="normal" text-anchor="end" fill="#2a2a2a" stroke="#2a2a2a" stroke-width="0.1" >30</text>
<line x1="311.50" y1="294.05" x2="314.50" y2="294.05" stroke="#505050" stroke-width="1.0"/>
<text x="307.10" y="296.55" font-family="Liberation Serif, sans-serif" font-size="7.4" font-weight="normal" text-anchor="end" fill="#2a2a2a" stroke="#2a2a2a" stroke-width="0.1" >20</text>
<line x1="311.50" y1="326.33" x2="314.50" y2="326.33" stroke="#505050" stroke-width="1.0"/>
<text x="307.10" y="328.83" font-family="Liberation Serif, sans-serif" font-size="7.4" font-weight="normal" text-anchor="end" fill="#2a2a2a" stroke="#2a2a2a" stroke-width="0.1" >10</text>
<line x1="311.50" y1="358.60" x2="314.50" y2="358.60" stroke="#505050" stroke-width="1.0"/>
<text x="307.10" y="361.10" font-family="Liberation Serif, sans-serif" font-size="7.4" font-weight="normal" text-anchor="end" fill="#2a2a2a" stroke="#2a2a2a" stroke-width="0.1" >0</text>
<text x="293.10" y="292.10" font-family="Liberation Serif, sans-serif" font-size="9.49" font-weight="bold" text-anchor="middle" fill="#0a0a0a" stroke="#0a0a0a" stroke-width="0.3" transform="rotate(-90 293.10 292.10)">Fold Increase over 18 S</text>
<text x="322.80" y="367.00" font-family="Liberation Sans, sans-serif" font-size="7.0" font-weight="normal" text-anchor="middle" fill="#111" stroke="#111" stroke-width="0.18" >C</text>
<text x="334.00" y="367.00" font-family="Liberation Sans, sans-serif" font-size="7.0" font-weight="normal" text-anchor="middle" fill="#111" stroke="#111" stroke-width="0.18" >S</text>
<text x="346.00" y="367.00" font-family="Liberation Sans, sans-serif" font-size="7.0" font-weight="normal" text-anchor="middle" fill="#111" stroke="#111" stroke-width="0.18" >S</text>
<line x1="317.50" y1="368.50" x2="339.20" y2="368.50" stroke="#333" stroke-width="0.9"/>
<text x="329.20" y="376.70" font-family="Liberation Sans, sans-serif" font-size="7.5" font-weight="normal" text-anchor="middle" fill="#111" stroke="#111" stroke-width="0.18" >GVHD</text>
<rect x="422.35" y="287.05" width="17.10" height="68.55" fill="#000" stroke="#111" stroke-width="0.9"/>
<line x1="431.20" y1="248.10" x2="431.20" y2="286.60" stroke="#3a3a3a" stroke-width="0.85"/>
<line x1="428.00" y1="248.10" x2="434.40" y2="248.10" stroke="#3a3a3a" stroke-width="0.95"/>
<rect x="444.55" y="354.95" width="17.50" height="0.65" fill="#000" stroke="#111" stroke-width="0.3"/>
<rect x="466.70" y="354.30" width="18.70" height="1.30" fill="#000" stroke="#111" stroke-width="0.4"/>
<line x1="417.00" y1="237.70" x2="417.00" y2="356.10" stroke="#505050" stroke-width="1.4"/>
<line x1="416.50" y1="355.60" x2="520.50" y2="355.60" stroke="#505050" stroke-width="1.4"/>
<line x1="412.70" y1="238.20" x2="417.00" y2="238.20" stroke="#505050" stroke-width="1.4"/>
<text x="411.30" y="240.70" font-family="Liberation Serif, sans-serif" font-size="7.4" font-weight="normal" text-anchor="end" fill="#2a2a2a" stroke="#2a2a2a" stroke-width="0.1" >1800</text>
<line x1="412.70" y1="251.26" x2="417.00" y2="251.26" stroke="#505050" stroke-width="1.4"/>
<text x="411.30" y="253.76" font-family="Liberation Serif, sans-serif" font-size="7.4" font-weight="normal" text-anchor="end" fill="#2a2a2a" stroke="#2a2a2a" stroke-width="0.1" >1600</text>
<line x1="412.70" y1="264.31" x2="417.00" y2="264.31" stroke="#505050" stroke-width="1.4"/>
<text x="411.30" y="266.81" font-family="Liberation Serif, sans-serif" font-size="7.4" font-weight="normal" text-anchor="end" fill="#2a2a2a" stroke="#2a2a2a" stroke-width="0.1" >1400</text>
<line x1="412.70" y1="277.37" x2="417.00" y2="277.37" stroke="#505050" stroke-width="1.4"/>
<text x="411.30" y="279.87" font-family="Liberation Serif, sans-serif" font-size="7.4" font-weight="normal" text-anchor="end" fill="#2a2a2a" stroke="#2a2a2a" stroke-width="0.1" >1200</text>
<line x1="412.70" y1="290.42" x2="417.00" y2="290.42" stroke="#505050" stroke-width="1.4"/>
<text x="411.30" y="292.92" font-family="Liberation Serif, sans-serif" font-size="7.4" font-weight="normal" text-anchor="end" fill="#2a2a2a" stroke="#2a2a2a" stroke-width="0.1" >1000</text>
<line x1="412.70" y1="303.48" x2="417.00" y2="303.48" stroke="#505050" stroke-width="1.4"/>
<text x="411.30" y="305.98" font-family="Liberation Serif, sans-serif" font-size="7.4" font-weight="normal" text-anchor="end" fill="#2a2a2a" stroke="#2a2a2a" stroke-width="0.1" >800</text>
<line x1="412.70" y1="316.53" x2="417.00" y2="316.53" stroke="#505050" stroke-width="1.4"/>
<text x="411.30" y="319.03" font-family="Liberation Serif, sans-serif" font-size="7.4" font-weight="normal" text-anchor="end" fill="#2a2a2a" stroke="#2a2a2a" stroke-width="0.1" >600</text>
<line x1="412.70" y1="329.59" x2="417.00" y2="329.59" stroke="#505050" stroke-width="1.4"/>
<text x="411.30" y="332.09" font-family="Liberation Serif, sans-serif" font-size="7.4" font-weight="normal" text-anchor="end" fill="#2a2a2a" stroke="#2a2a2a" stroke-width="0.1" >400</text>
<line x1="412.70" y1="342.64" x2="417.00" y2="342.64" stroke="#505050" stroke-width="1.4"/>
<text x="411.30" y="345.14" font-family="Liberation Serif, sans-serif" font-size="7.4" font-weight="normal" text-anchor="end" fill="#2a2a2a" stroke="#2a2a2a" stroke-width="0.1" >200</text>
<line x1="412.70" y1="355.70" x2="417.00" y2="355.70" stroke="#505050" stroke-width="1.4"/>
<text x="411.30" y="358.20" font-family="Liberation Serif, sans-serif" font-size="7.4" font-weight="normal" text-anchor="end" fill="#2a2a2a" stroke="#2a2a2a" stroke-width="0.1" >0</text>
<text x="389.60" y="293.70" font-family="Liberation Serif, sans-serif" font-size="9.39" font-weight="bold" text-anchor="middle" fill="#0a0a0a" stroke="#0a0a0a" stroke-width="0.3" transform="rotate(-90 389.60 293.70)">Fold Increase over 18 S</text>
<text x="431.00" y="364.90" font-family="Liberation Sans, sans-serif" font-size="7.5" font-weight="normal" text-anchor="middle" fill="#111" stroke="#111" stroke-width="0.18" >Colon</text>
<text x="453.60" y="364.90" font-family="Liberation Sans, sans-serif" font-size="7.5" font-weight="normal" text-anchor="middle" fill="#111" stroke="#111" stroke-width="0.18" >Spl</text>
<text x="476.40" y="364.90" font-family="Liberation Sans, sans-serif" font-size="7.5" font-weight="normal" text-anchor="middle" fill="#111" stroke="#111" stroke-width="0.18" >Liver</text>
<text x="502.30" y="364.90" font-family="Liberation Sans, sans-serif" font-size="7.5" font-weight="normal" text-anchor="middle" fill="#111" stroke="#111" stroke-width="0.18" >Spl</text>
<line x1="418.40" y1="367.30" x2="487.60" y2="367.30" stroke="#333" stroke-width="0.9"/>
<text x="452.80" y="377.20" font-family="Liberation Sans, sans-serif" font-size="7.5" font-weight="normal" text-anchor="middle" fill="#111" stroke="#111" stroke-width="0.18" >GVHD</text>
</g>
</svg></body></html>
